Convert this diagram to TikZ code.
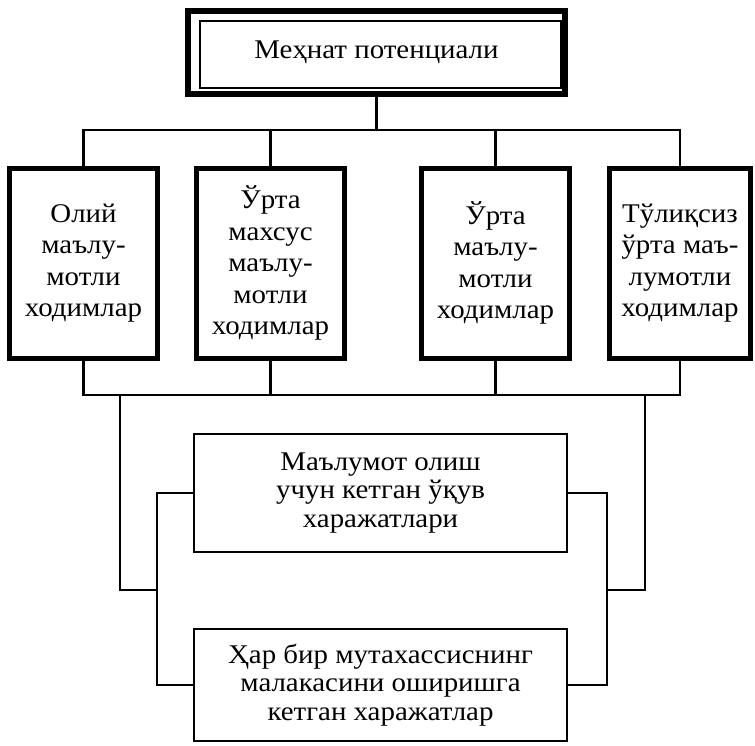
\documentclass[tikz,border=0pt]{standalone}
\usepackage{fontspec}
\setmainfont{Liberation Serif}[FakeStretch=1.07]
\usetikzlibrary{calc}

\begin{document}
\begin{tikzpicture}[x=1pt, y=-1pt,
  every node/.style={font=\fontsize{27}{31.5}\selectfont},
  potbox/.style={rectangle, draw, line width=6pt, minimum width=377pt,
                 minimum height=83pt, inner sep=0pt},
  edubox/.style={rectangle, draw, line width=5pt, minimum width=148pt,
                 minimum height=190pt, align=center, inner sep=0pt},
  costbox/.style={rectangle, draw, line width=2.6pt, minimum width=373pt,
                  align=center, inner sep=0pt, font=\fontsize{27}{28.5}\selectfont},
  ln/.style={line width=2.6pt},
]
\useasboundingbox (0,0) rectangle (755,745);
\node[potbox] (pot) at (376.5, 52.5) {Меҳнат потенциали};
\draw[line width=1.8pt] ([xshift=15pt,yshift=-13pt]pot.north west)
                     rectangle ([xshift=-7pt,yshift=9pt]pot.south east);
\node[edubox] (edu1) at ( 83.5, 263) {Олий\\маълу-\\мотли\\ходимлар};
\node[edubox] (edu2) at (270.5, 263) {Ўрта\\махсус\\маълу-\\мотли\\ходимлар};
\node[edubox] (edu3) at (495.5, 263) {Ўрта\\маълу-\\мотли\\ходимлар};
\node[edubox, minimum width=141pt] (edu4) at (680, 263) {Тўлиқсиз\\ўрта маъ-\\лумотли\\ходимлар};
\node[costbox, minimum height=118pt] (study) at (380.5, 493) {Маълумот олиш\\учун кетган ўқув\\харажатлари};
\node[costbox, minimum height=112pt] (skill) at (380.5, 685) {Ҳар бир мутахассиснинг\\малакасини оширишга\\кетган харажатлар};
\coordinate (busT)  at (0, 130);
\coordinate (busB)  at (0, 395);
\coordinate (dropL) at (120, 395);
\coordinate (dropR) at (645, 395);
\coordinate (brL)   at (157, 590);
\coordinate (brR)   at (607, 590);
%% upper bus
\draw[ln] (pot.south) -- (pot.south |- busT);
\draw[ln] (edu1.north) -- (edu1.north |- busT) -- (edu4.north |- busT) -- (edu4.north);
\draw[ln] (edu2.north) -- (edu2.north |- busT);
\draw[ln] (edu3.north) -- (edu3.north |- busT);
%% lower bus
\draw[ln] (edu1.south) -- (edu1.south |- busB) -- (edu4.south |- busB) -- (edu4.south);
\draw[ln] (edu2.south) -- (edu2.south |- busB);
\draw[ln] (edu3.south) -- (edu3.south |- busB);
%% brackets round the cost boxes
\draw[ln] (dropL) |- (brL);
\draw[ln] (study.west) -| (brL) |- (skill.west);
\draw[ln] (dropR) |- (brR);
\draw[ln] (study.east) -| (brR) |- (skill.east);
\end{tikzpicture}
\end{document}
